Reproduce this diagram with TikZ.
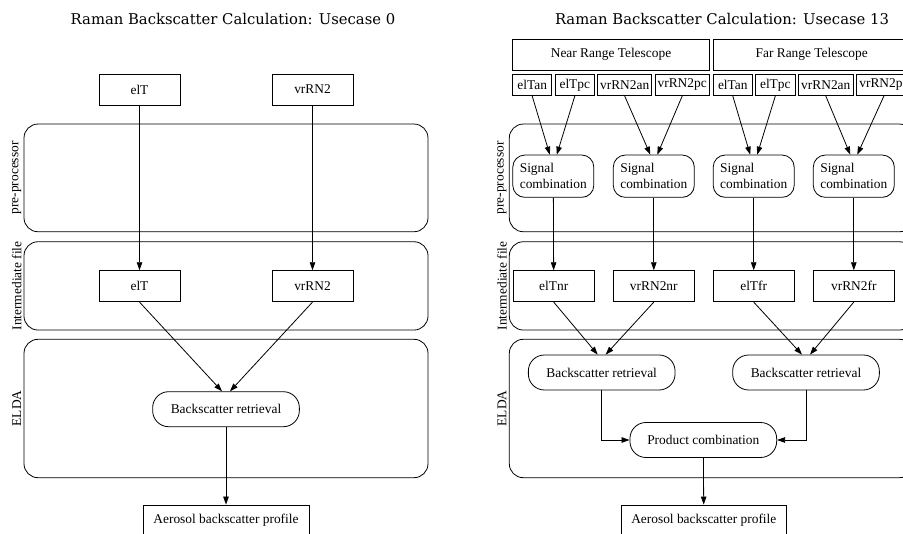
\documentclass[tikz,border=0pt]{standalone}
\usepackage{fontspec}
\setmainfont{Liberation Serif}
\newfontfamily\titlefont{DejaVu Serif}
\usetikzlibrary{arrows.meta}
\tikzset{
  lane/.style={draw=black,line width=0.8pt,rounded corners=14pt,inner sep=0pt},
  lanelabel/.style={rotate=90,inner sep=0pt},
  box/.style={draw=black,line width=0.8pt,inner sep=0pt,minimum width=81pt,minimum height=31pt},
  port/.style={draw=black,line width=0.8pt,inner sep=0pt,minimum height=21.7pt},
  proc/.style={draw=black,line width=0.8pt,inner sep=0pt,rounded corners=16pt,minimum width=146.7pt,minimum height=35pt},
  combo/.style={draw=black,line width=0.8pt,inner sep=0pt,rounded corners=12pt,minimum width=81pt,minimum height=42.3pt,align=left},
  flow/.style={draw=black,line width=0.8pt,-{Triangle[length=8pt,width=5.5pt]}}
}
\begin{document}
\begin{tikzpicture}[x=1pt,y=-1pt,font=\fontsize{13.4}{16}\selectfont]
  \useasboundingbox (0,0) rectangle (903,534);
  % titles
  \node[font=\titlefont\fontsize{14.8}{17}\selectfont] (t0) at (233,19) {Raman Backscatter Calculation: Usecase 0};
  \node[font=\titlefont\fontsize{14.8}{17}\selectfont] (t13) at (722,19) {Raman Backscatter Calculation: Usecase 13};
  % lanes
  \begin{scope}[every node/.style={lane,minimum width=404pt}]
    \node[minimum height=107.7pt] (pre0) at (226,177.9) {};
    \node[minimum height=88.3pt] (int0) at (226,285.9) {};
    \node[minimum height=138.4pt] (elda0) at (226,408.5) {};
    \node[minimum height=107.7pt] (pre13) at (711.3,177.9) {};
    \node[minimum height=88.3pt] (int13) at (711.3,285.9) {};
    \node[minimum height=138.4pt] (elda13) at (711.3,408.5) {};
  \end{scope}
  \begin{scope}[every node/.style={lanelabel}]
    \node (lp0) at (16.7,177.9) {pre-processor};
    \node (li0) at (16.7,285.9) {Intermediate file};
    \node (le0) at (16.7,408.5) {ELDA};
    \node (lp13) at (502,177.9) {pre-processor};
    \node (li13) at (502,285.9) {Intermediate file};
    \node (le13) at (502,408.5) {ELDA};
  \end{scope}
  % usecase 0
  \node[box] (elT) at (139.5,89.5) {elT};
  \node[box] (vrRN) at (312.5,89.5) {vrRN2};
  \node[box] (elTi) at (139.5,286.2) {elT};
  \node[box] (vrRNi) at (312.5,286.2) {vrRN2};
  \node[proc] (br) at (226,409.2) {Backscatter retrieval};
  \node[box,minimum width=166pt] (aer) at (226,520.5) {Aerosol backscatter profile};
  % usecase 13
  \node[box,minimum width=196.6pt,minimum height=30.7pt] (nr) at (611,54.7) {Near Range Telescope};
  \node[box,minimum width=196.6pt,minimum height=30.7pt] (fr) at (811.7,54.7) {Far Range Telescope};
  \begin{scope}[every node/.style={port}]
    \node[minimum width=39pt] (a1) at (532.2,84.8) {elTan};
    \node[minimum width=39pt] (a2) at (574.8,84.8) {elTpc};
    \node[minimum width=54pt] (a3) at (624.7,84.8) {vrRN2an};
    \node[minimum width=54.3pt] (a4) at (682.2,84.8) {vrRN2pc};
    \node[minimum width=39pt] (b1) at (732.8,84.8) {elTan};
    \node[minimum width=39.3pt] (b2) at (775.3,84.8) {elTpc};
    \node[minimum width=55pt] (b3) at (825.8,84.8) {vrRN2an};
    \node[minimum width=54.3pt] (b4) at (883.9,84.8) {vrRN2pc};
  \end{scope}
  \begin{scope}[every node/.style={combo}]
    \node (sc1) at (553.3,176.2) {Signal\\combination};
    \node (sc2) at (653.8,176.2) {Signal\\combination};
    \node (sc3) at (753.7,176.2) {Signal\\combination};
    \node (sc4) at (853.8,176.2) {Signal\\combination};
  \end{scope}
  \node[box] (elTnr) at (553.7,286.2) {elTnr};
  \node[box] (vrRNnr) at (653.8,286.2) {vrRN2nr};
  \node[box] (elTfr) at (753.7,286.2) {elTfr};
  \node[box] (vrRNfr) at (853.8,286.2) {vrRN2fr};
  \node[proc] (br1) at (601.7,372.5) {Backscatter retrieval};
  \node[proc] (br2) at (806,372.5) {Backscatter retrieval};
  \node[proc] (pc) at (703.3,440) {Product combination};
  \node[box,minimum width=165.7pt] (aer13) at (703.8,520.5) {Aerosol backscatter profile};
  % connectors
  \begin{scope}[every edge/.style={flow}]
    \path (elT) edge (elTi);
    \path (vrRN) edge (vrRNi);
    \path (elTi.south) edge ([xshift=-4pt]br.north);
    \path (vrRNi.south) edge ([xshift=4pt]br.north);
    \path (br) edge (aer);
    \path (a1.south) edge ([xshift=-3.5pt]sc1.north);
    \path (a2.south) edge ([xshift=3.5pt]sc1.north);
    \path (a3.south) edge ([xshift=-3.5pt]sc2.north);
    \path (a4.south) edge ([xshift=3.5pt]sc2.north);
    \path (b1.south) edge ([xshift=-3.5pt]sc3.north);
    \path (b2.south) edge ([xshift=3.5pt]sc3.north);
    \path (b3.south) edge ([xshift=-3.5pt]sc4.north);
    \path (b4.south) edge ([xshift=3.5pt]sc4.north);
    \path (sc1) edge (elTnr);
    \path (sc2) edge (vrRNnr);
    \path (sc3) edge (elTfr);
    \path (sc4) edge (vrRNfr);
    \path (elTnr.south) edge ([xshift=-4pt]br1.north);
    \path (vrRNnr.south) edge ([xshift=4pt]br1.north);
    \path (elTfr.south) edge ([xshift=-4pt]br2.north);
    \path (vrRNfr.south) edge ([xshift=4pt]br2.north);
    \path (pc) edge (aer13);
  \end{scope}
  \draw[flow] (br1.south) |- (pc.west);
  \draw[flow] (br2.south) |- (pc.east);
\end{tikzpicture}
\end{document}
